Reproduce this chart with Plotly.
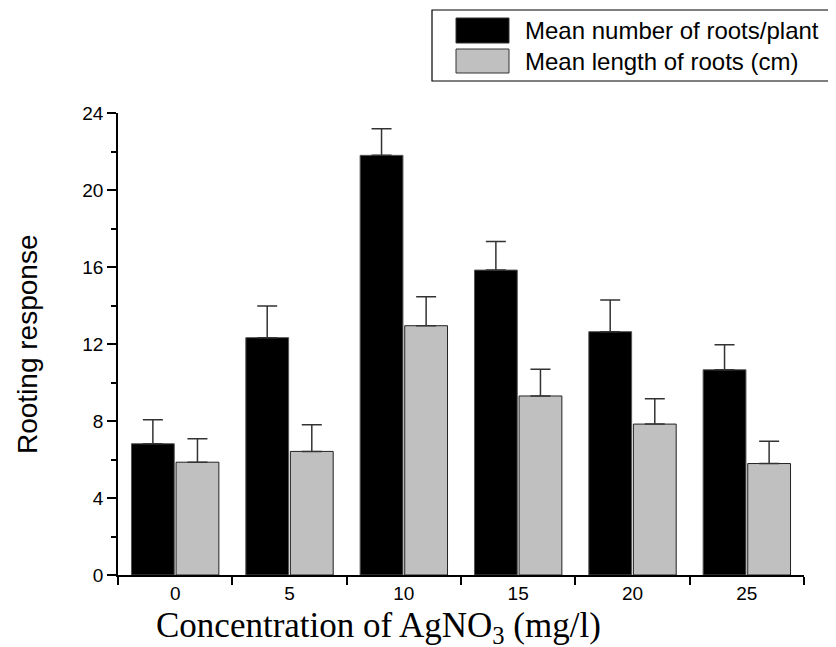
import plotly.graph_objects as go

categories = ["0", "5", "10", "15", "20", "25"]
root_number = [6.82, 12.33, 21.8, 15.84, 12.64, 10.66]
root_number_err = [1.25, 1.65, 1.38, 1.48, 1.65, 1.3]
root_length = [5.86, 6.42, 12.95, 9.3, 7.84, 5.79]
root_length_err = [1.22, 1.39, 1.5, 1.39, 1.31, 1.16]
series_names = ["Mean number of roots/plant", "Mean length of roots (cm)"]
y_ticks = [0, 4, 8, 12, 16, 20, 24]

# page has an 8px body margin; size the figure so it fits the 836x647 window
OFF = 8
W, H = 836 - OFF, 647 - OFF
L, R, T, B = 118 - OFF, 32, 113 - OFF, 72
pw, ph = W - L - R, H - T - B


def px(x):
    # x in window pixels -> paper coordinate
    return (x - OFF - L) / pw


def py(y):
    # y in window pixels -> paper coordinate
    return (H - B - (y - OFF)) / ph


fig = go.Figure()
fig.add_trace(go.Bar(
    x=categories, y=root_number, name=series_names[0],
    marker=dict(color="#000000", line=dict(color="#555555", width=1)),
    error_y=dict(type="data", array=root_number_err, symmetric=False,
                 arrayminus=[0] * len(categories),
                 color="#333333", thickness=1.5, width=10),
    showlegend=False,
))
fig.add_trace(go.Bar(
    x=categories, y=root_length, name=series_names[1],
    marker=dict(color="#c0c0c0", line=dict(color="#222222", width=1)),
    error_y=dict(type="data", array=root_length_err, symmetric=False,
                 arrayminus=[0] * len(categories),
                 color="#333333", thickness=1.5, width=10),
    showlegend=False,
))

tick_font = dict(family="Arial, Liberation Sans, sans-serif", size=19, color="#000")

fig.update_layout(
    width=W, height=H,
    margin=dict(l=L, r=R, t=T, b=B, pad=0),
    paper_bgcolor="white", plot_bgcolor="white",
    barmode="group", bargap=0.22, bargroupgap=0.04,
    xaxis=dict(
        type="category", range=[-0.5, 5.5],
        showline=True, linecolor="#000", linewidth=1.5,
        ticks="outside", ticklen=8, tickwidth=1.5, tickcolor="#000",
        tickson="boundaries", showgrid=False, zeroline=False,
        tickfont=tick_font,
    ),
    yaxis=dict(
        range=[0, 24], tickvals=y_ticks,
        showline=True, linecolor="#000", linewidth=1.5,
        ticks="outside", ticklen=9, tickwidth=1.5, tickcolor="#000",
        minor=dict(dtick=2, ticks="outside", ticklen=5, tickwidth=1.5, tickcolor="#000"),
        showgrid=False, zeroline=False,
        tickfont=tick_font,
    ),
    showlegend=False,
)

# axis titles
fig.add_annotation(
    text="Concentration of AgNO<sub>3</sub> (mg/l)",
    xref="paper", yref="paper", x=px(378), y=py(627),
    xanchor="center", yanchor="middle", showarrow=False,
    font=dict(family="Times New Roman, Liberation Serif, serif", size=35, color="#000"),
)
fig.add_annotation(
    text="Rooting response",
    xref="paper", yref="paper", x=px(27), y=py(345),
    xanchor="center", yanchor="middle", showarrow=False, textangle=-90,
    font=dict(family="Arial, Liberation Sans, sans-serif", size=28, color="#000"),
)

# legend box
fig.add_shape(type="rect", xref="paper", yref="paper",
              x0=px(432), x1=px(833), y0=py(81), y1=py(10),
              line=dict(color="#000", width=1.2), fillcolor="white", layer="below")
legend_colors = ["#000000", "#c0c0c0"]
legend_rows = [(18, 43), (49, 73)]
for name, col, (r0, r1) in zip(series_names, legend_colors, legend_rows):
    fig.add_shape(type="rect", xref="paper", yref="paper",
                  x0=px(456), x1=px(509), y0=py(r1), y1=py(r0),
                  line=dict(color="#333", width=1), fillcolor=col)
    fig.add_annotation(
        text=name, xref="paper", yref="paper",
        x=px(523), y=py((r0 + r1) / 2), xanchor="left", yanchor="middle",
        showarrow=False,
        font=dict(family="Arial, Liberation Sans, sans-serif", size=24, color="#000"),
    )

fig.write_html("out.html")
